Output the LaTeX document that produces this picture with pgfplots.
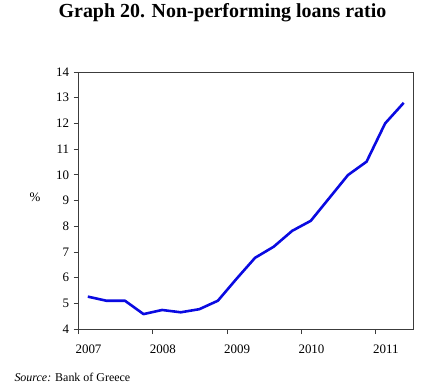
\documentclass[border=0pt]{standalone}
\usepackage{pgfplots}
\pgfplotsset{compat=1.18}
\usepackage{fontspec}
\setmainfont{Liberation Serif}
\definecolor{lineblue}{RGB}{10,10,225}
\definecolor{axgray}{RGB}{60,60,60}
\begin{document}
\begin{tikzpicture}
\path[use as bounding box] (-78.5bp,-54bp) rectangle (348.5bp,329bp);
\begin{axis}[
  at={(0,0)}, anchor=south west,
  scale only axis, width=334.5bp, height=257bp,
  xmin=2007, xmax=2011.5, ymin=4, ymax=14,
  xtick={2007,2008,2009,2010,2011},
  xticklabels={2007,2008,2009,2010,2011},
  ytick={4,5,...,14},
  tick align=outside, tick pos=left,
  major tick length=5bp,
  axis line style={axgray, line width=0.8pt},
  tick style={axgray, line width=0.8pt},
  ticklabel style={font=\fontsize{13}{15}\selectfont},
  xticklabel style={xshift=10bp, yshift=-7bp},
  yticklabel style={xshift=-1bp},
  /pgf/number format/assume math mode=true,
  /pgf/number format/1000 sep={},
  clip=false,
]
\addplot[lineblue, line width=2.6pt, line join=round] coordinates {
(2007.125,5.26) (2007.375,5.10) (2007.625,5.10) (2007.875,4.58)
(2008.125,4.74) (2008.375,4.65) (2008.625,4.77) (2008.875,5.10)
(2009.125,5.95) (2009.375,6.77) (2009.625,7.20) (2009.875,7.82)
(2010.125,8.21) (2010.375,9.10) (2010.625,9.99) (2010.875,10.51)
(2011.125,12.00) (2011.375,12.80)
};
\end{axis}
\node[font=\bfseries\fontsize{20}{22}\selectfont] at (144bp,316bp) {Graph 20. Non-performing loans ratio};
\node[font=\fontsize{13}{15}\selectfont] at (-43.5bp,132bp) {\%};
\node[anchor=west, font=\fontsize{12}{14}\selectfont] at (-67.5bp,-48bp) {\textit{Source:} Bank of Greece};
\end{tikzpicture}
\end{document}
